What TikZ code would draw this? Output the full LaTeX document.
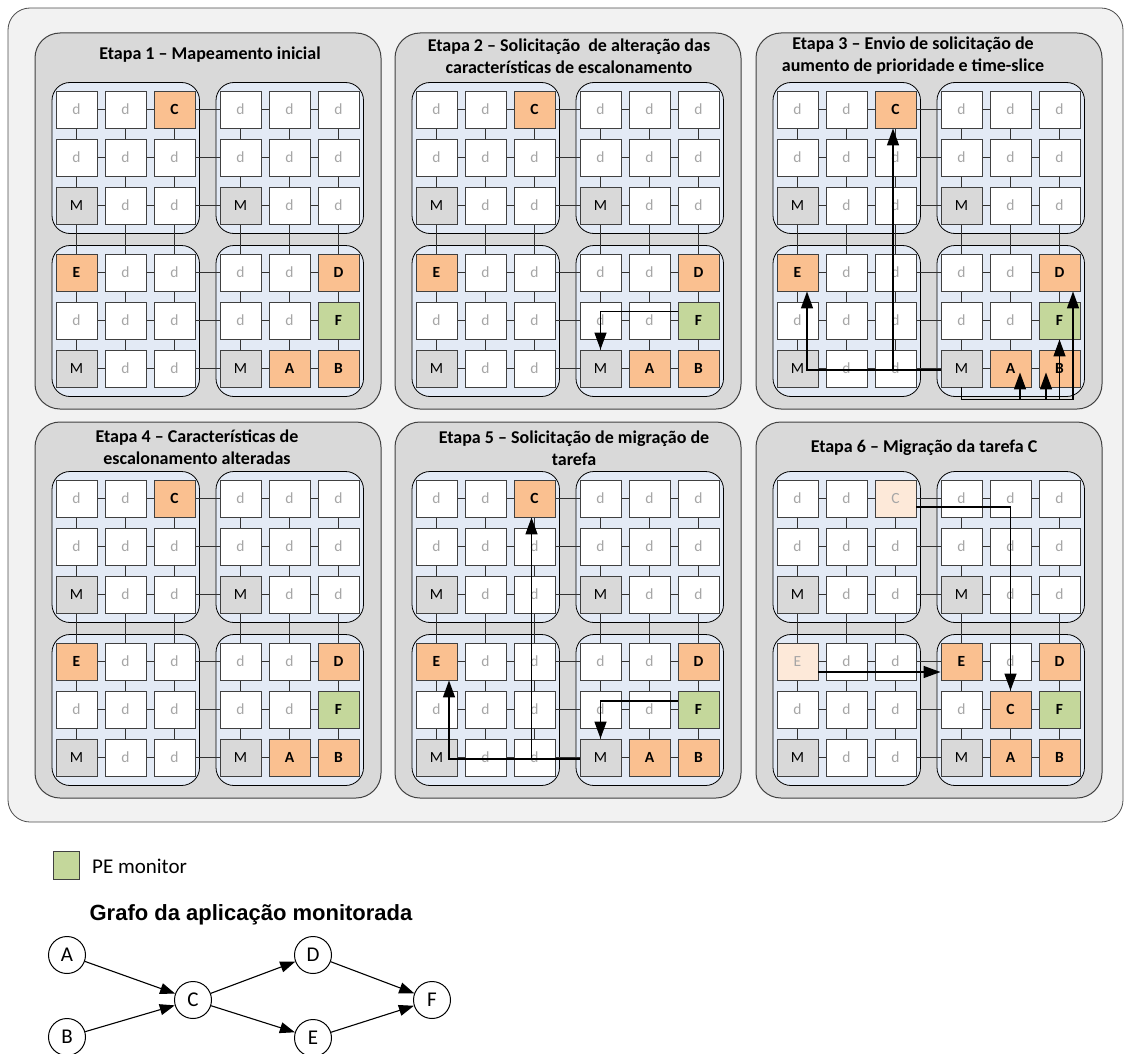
\documentclass[tikz,border=0pt]{standalone}
\usepackage{fontspec}
\setmainfont{Carlito}
\newfontfamily\arialfont{Liberation Sans}
\usetikzlibrary{arrows.meta}
\pgfdeclarelayer{bg}
\pgfdeclarelayer{mid}
\pgfsetlayers{bg,mid,main}
\definecolor{bgout}{HTML}{F2F2F2}
\definecolor{panelgray}{HTML}{D9D9D9}
\definecolor{clusterblue}{HTML}{E3EAF5}
\definecolor{taskorange}{HTML}{FAC090}
\definecolor{fadedorange}{HTML}{FDE9D9}
\definecolor{monitorgreen}{HTML}{C4D79B}
\newcommand\kind[3]{\expandafter\gdef\csname sty-#1\endcsname{#2}\expandafter\gdef\csname lbl-#1\endcsname{#3}}
\foreach \p in {1,...,6}{\kind{\p-31}{mcell}{M}\kind{\p-34}{mcell}{M}\kind{\p-61}{mcell}{M}\kind{\p-64}{mcell}{M}\kind{\p-46}{ocell}{D}\kind{\p-56}{gcell}{F}\kind{\p-65}{ocell}{A}\kind{\p-66}{ocell}{B}}
\foreach \p in {1,...,5}{\kind{\p-13}{ocell}{C}\kind{\p-41}{ocell}{E}}
\kind{6-13}{fcell}{C}\kind{6-41}{fcell}{E}\kind{6-44}{ocell}{E}\kind{6-55}{ocell}{C}

\begin{document}
\begin{tikzpicture}[x=1pt,y=-1pt,
	panel/.style={draw=black!75,fill=panelgray,line width=1pt,rounded corners=25},
	cluster/.style={draw=black,fill=clusterblue,line width=0.8pt,rounded corners=18},
	link/.style={draw=black!80,line width=1pt},
	cellbox/.style={draw=black!75,line width=0.9pt,minimum width=41,minimum height=37,inner sep=0,font=\fontsize{15.5}{17}\selectfont},
	dcell/.style={cellbox,fill=white,text=black!35},
	mcell/.style={cellbox,fill=panelgray},
	ocell/.style={cellbox,fill=taskorange,font=\fontsize{15.5}{17}\selectfont\bfseries},
	gcell/.style={cellbox,fill=monitorgreen,font=\fontsize{15.5}{17}\selectfont\bfseries},
	fcell/.style={cellbox,fill=fadedorange,text=black!35},
	title/.style={align=center,font=\fontsize{18}{22}\selectfont\bfseries},
	flow/.style={line width=1.4pt,-{Triangle[length=17pt,width=12pt]}},
	task/.style={circle,draw,line width=1pt,minimum size=37,inner sep=0,font=\fontsize{21}{23}\selectfont},
	dep/.style={line width=1.1pt,-{Triangle[length=15pt,width=11pt]}}]
	\useasboundingbox (0,0) rectangle (1124,1054);
	\begin{pgfonlayer}{bg}
	\draw[draw=black!70,fill=bgout,line width=0.8pt,rounded corners=22] (8,8) rectangle (1123,822);
	\end{pgfonlayer}
	\foreach \p/\gx/\gy in {1/56/91,2/416/91,3/777/91,4/56/480,5/416/480,6/777/480}{
		\begin{pgfonlayer}{bg}
		\draw[panel] (\gx-21,\gy-58) rectangle (\gx+325,\gy+318);
		\foreach \ox/\oy in {0/0,164/0,0/163,164/163}
			\draw[cluster] (\gx+\ox-4,\gy+\oy-8.5) rectangle (\gx+\ox+143.5,\gy+\oy+142.5);
		\end{pgfonlayer}
		\foreach \rw/\dy in {1/0,2/48,3/96,4/163,5/211,6/259}
			\foreach \cl/\dx in {1/0,2/49,3/98,4/164,5/213,6/262}{
				\ifcsname sty-\p-\rw\cl\endcsname
					\edef\sty{\csname sty-\p-\rw\cl\endcsname}\edef\lbl{\csname lbl-\p-\rw\cl\endcsname}
				\else\def\sty{dcell}\def\lbl{d}\fi
				\node[\sty] (p\p-\rw\cl) at (\gx+\dx+20.5,\gy+\dy+18.5) {\lbl};
			}
		\begin{pgfonlayer}{mid}
		\foreach \rw in {1,...,6}
			\foreach \cl [count=\nx from 2] in {1,...,5}{
				\draw[link] (p\p-\rw\cl) -- (p\p-\rw\nx);
				\draw[link] (p\p-\cl\rw) -- (p\p-\nx\rw);
			}
		\end{pgfonlayer}
	}
	\node[title] (t1) at (210,55) {Etapa 1 – Mapeamento inicial};
	\node[title] (t2) at (569,56) {Etapa 2 – Solicitação~ de alteração das\\características de escalonamento};
	\node[title] (t3) at (913,56) {Etapa 3 – Envio de solicitação de\\aumento de prioridade e time-slice};
	\node[title] (t4) at (197,447) {Etapa 4 – Características de\\escalonamento alteradas};
	\node[title] (t5) at (574,448) {Etapa 5 – Solicitação de migração de\\tarefa};
	\node[title] (t6) at (924,448) {Etapa 6 – Migração da tarefa C};
	\draw[flow] ([yshift=9pt]p2-56.west) -| (p2-64.north);
	\coordinate (b3) at ([yshift=-12pt]p3-64.south);
	\coordinate (a3) at ([xshift=9.5pt,yshift=15pt]p3-65.south);
	\coordinate (bb3) at ([xshift=-13.5pt,yshift=15pt]p3-66.south);
	\coordinate (w3) at ([yshift=-1.5pt]p3-64.west);
	\coordinate (c3) at ([xshift=-2.5pt]p3-13.south);
	\draw[flow] (p3-64.south) -- (b3) -| ([xshift=13.5pt]p3-46.south);
	\draw[flow] (b3 -| p3-56.south) -- (p3-56.south);
	\draw[flow] (b3 -| a3) -- (a3);
	\draw[flow] (b3 -| bb3) -- (bb3);
	\draw[flow] (w3) -| ([xshift=9.5pt]p3-41.south);
	\draw[flow] (w3 -| c3) -- (c3);
	\draw[flow] ([yshift=8.5pt]p5-56.west) -| (p5-64.north);
	\coordinate (w5) at ([yshift=-1.5pt]p5-64.west);
	\coordinate (c5) at ([xshift=-3pt]p5-13.south);
	\draw[flow] (w5) -| ([xshift=12.5pt]p5-41.south);
	\draw[flow] (w5 -| c5) -- (c5);
	\draw[flow] ([yshift=-8.5pt]p6-13.east) -| (p6-55.north);
	\draw[flow] ([yshift=-10.5pt]p6-41.east) -- ([yshift=-10.5pt]p6-44.west);
	\node[draw=black!75,fill=monitorgreen,minimum width=26,minimum height=28,inner sep=0] (legbox) at (66,865) {};
	\node[anchor=west,inner sep=0,font=\fontsize{21}{24}\selectfont] (legtext) at (92,866) {PE monitor};
	\node[font=\arialfont\bfseries\fontsize{22}{26}\selectfont] (gtitle) at (251,915) {Grafo da aplicação monitorada};
	\node[task] (A) at (67,955) {A};
	\node[task] (B) at (67,1037) {B};
	\node[task] (C) at (193,1000) {C};
	\node[task] (D) at (313,955) {D};
	\node[task] (E) at (313,1038) {E};
	\node[task] (F) at (432,1000) {F};
	\draw[dep] (A) -- (C);
	\draw[dep] (B) -- (C);
	\draw[dep] (C) -- (D);
	\draw[dep] (C) -- (E);
	\draw[dep] (D) -- (F);
	\draw[dep] (E) -- (F);
\end{tikzpicture}
\end{document}
